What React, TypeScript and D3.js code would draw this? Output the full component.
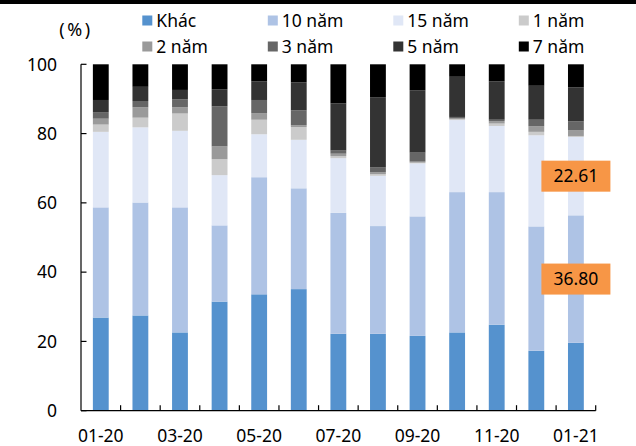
import React from 'react';
import * as d3 from 'd3';

// Monthly structure of bond issuance by tenor (share, %)
const months = ['01-20', '02-20', '03-20', '04-20', '05-20', '06-20', '07-20', '08-20', '09-20', '10-20', '11-20', '12-20', '01-21'];
const khac = [26.9, 27.5, 22.6, 31.5, 33.6, 35.1, 22.2, 22.2, 21.6, 22.6, 24.8, 17.3, 19.6];
const nam10 = [31.8, 32.6, 36.1, 22.0, 33.8, 29.1, 34.9, 31.1, 34.5, 40.5, 38.3, 35.9, 36.8];
const nam15 = [21.8, 21.7, 22.1, 14.5, 12.4, 14.0, 15.8, 14.5, 15.3, 20.8, 19.1, 26.3, 22.61];
const nam1 = [2.1, 2.8, 5.0, 4.6, 4.2, 3.7, 0.6, 0.5, 0.2, 0.3, 0.7, 1.0, 0.3];
const nam2 = [1.7, 3.0, 1.8, 3.7, 1.9, 0.5, 0.7, 0.5, 0.3, 0.3, 0.7, 1.6, 1.6];
const nam3 = [1.9, 1.8, 2.3, 11.6, 3.8, 4.3, 0.9, 1.4, 2.6, 0.3, 0.4, 1.9, 2.6];
const nam5 = [3.5, 4.1, 2.7, 4.9, 5.4, 8.1, 13.6, 20.3, 18.0, 11.6, 11.1, 9.8, 9.8];
const nam7 = [10.3, 6.5, 7.4, 7.2, 4.9, 5.2, 11.3, 9.5, 7.5, 3.6, 4.9, 6.2, 6.69];

const seriesNames = ['Khác', '10 năm', '15 năm', '1 năm', '2 năm', '3 năm', '5 năm', '7 năm'];
const seriesValues = [khac, nam10, nam15, nam1, nam2, nam3, nam5, nam7];
const seriesColors = ['#5592ce', '#aec3e5', '#e0e7f6', '#cbcbcb', '#9a9a9a', '#666666', '#333333', '#000000'];
const yTicks = [0, 20, 40, 60, 80, 100];

// Segments carrying a value callout: [series index, month index]
const callouts: [number, number][] = [[2, 12], [1, 12]];

const W = 636;
const H = 446;
const FONT = "'Noto Sans', sans-serif";

export default function App() {
  const x = d3.scaleBand<string>().domain(months).range([81, 595.7]).paddingInner(0.6).paddingOuter(0.3);
  const y = d3.scaleLinear().domain([0, 100]).range([410.7, 64.3]);

  const rows = months.map((m, i) => {
    const r: Record<string, number | string> = { month: m };
    seriesNames.forEach((s, k) => (r[s] = seriesValues[k][i]));
    return r;
  });
  const stacked = d3.stack<Record<string, number | string>>().keys(seriesNames)(rows as any);

  const step = x.step();
  const x0 = x.range()[0];
  const x1 = x.range()[1];
  const boundaries = d3.range(1, months.length + 1).map((i) => x0 + i * step);

  return (
    <svg width={W} height={H} style={{ position: 'absolute', left: 0, top: 0, background: '#fff' }} fontFamily={FONT}>
      <rect x={0} y={0} width={W} height={H} fill="#fff" />
      <rect x={0} y={0} width={W} height={4} fill="#000" />

      {/* stacked bars */}
      {stacked.map((layer, k) => (
        <g key={layer.key} fill={seriesColors[k]}>
          {layer.map((d, i) => (
            <rect
              key={i}
              x={x(months[i])}
              y={y(d[1])}
              width={x.bandwidth()}
              height={Math.max(0, y(d[0]) - y(d[1]))}
            />
          ))}
        </g>
      ))}

      {/* axes */}
      <line x1={x0} x2={x0} y1={y(100)} y2={y(0)} stroke="#000" strokeWidth={1.2} />
      <line x1={x0} x2={x1} y1={y(0)} y2={y(0)} stroke="#000" strokeWidth={1.2} />
      {yTicks.map((t) => (
        <g key={t}>
          <line x1={x0} x2={x0 + 5.5} y1={y(t)} y2={y(t)} stroke="#000" strokeWidth={1.2} />
          <text x={57} y={y(t) + 6.3} textAnchor="end" fontSize={17.5} fill="#000">
            {t}
          </text>
        </g>
      ))}
      {boundaries.map((bx, i) => (
        <line key={i} x1={bx} x2={bx} y1={y(0)} y2={y(0) - 5.5} stroke="#000" strokeWidth={1.2} />
      ))}
      {months.map((m, i) =>
        i % 2 === 0 ? (
          <text key={m} x={(x(m) as number) + x.bandwidth() / 2} y={441.5} textAnchor="middle" fontSize={17.5} fill="#000">
            {m}
          </text>
        ) : null
      )}

      {/* value callouts */}
      {callouts.map(([k, i]) => {
        const d = stacked[k][i];
        const cx = (x(months[i]) as number) + x.bandwidth() / 2;
        const cy = y((d[0] + d[1]) / 2);
        return (
          <g key={`${k}-${i}`}>
            <rect x={cx - 34.5} y={cy - 15.5} width={69} height={31} fill="#f79646" />
            <text x={cx} y={cy + 6.3} textAnchor="middle" fontSize={17.5} fill="#000">
              {seriesValues[k][i].toFixed(2)}
            </text>
          </g>
        );
      })}

      {/* unit label */}
      <text x={76} y={35.5} textAnchor="middle" fontSize={18} fill="#000" letterSpacing={2.5}>
        (%)
      </text>

      {/* legend */}
      {seriesNames.map((s, k) => {
        const col = k % 4;
        const row = Math.floor(k / 4);
        const lx = 142.3 + col * 125.5;
        const cy = 20.5 + row * 26;
        return (
          <g key={s}>
            <rect x={lx} y={cy - 5} width={10} height={10} fill={seriesColors[k]} />
            <text x={lx + 14} y={cy + 6.2} fontSize={17.5} fill="#000">
              {s}
            </text>
          </g>
        );
      })}
    </svg>
  );
}
